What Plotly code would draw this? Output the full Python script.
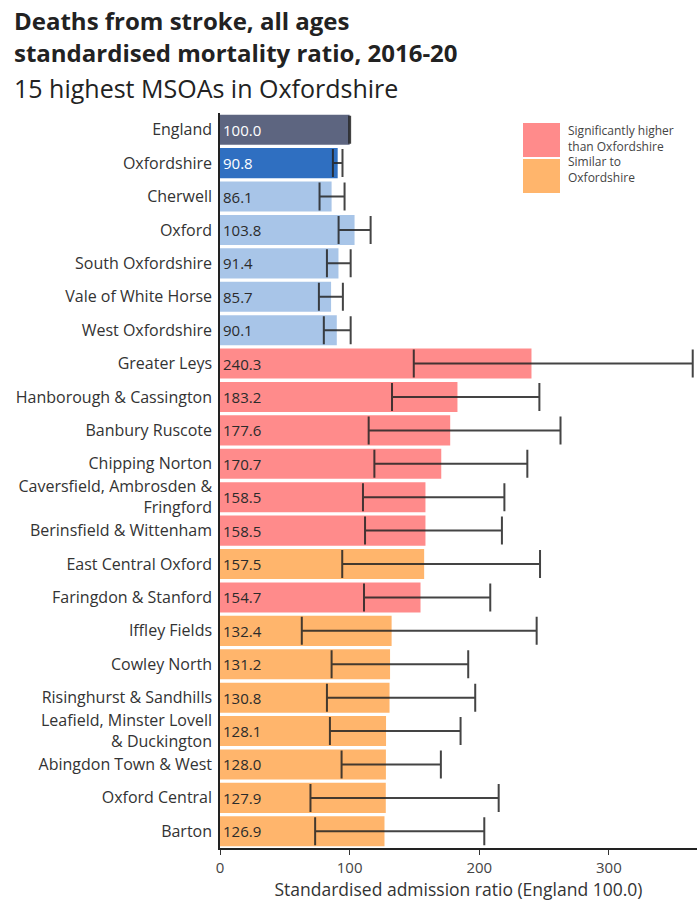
import plotly.graph_objects as go

categories = [
    "England", "Oxfordshire", "Cherwell", "Oxford", "South Oxfordshire",
    "Vale of White Horse", "West Oxfordshire", "Greater Leys",
    "Hanborough & Cassington", "Banbury Ruscote", "Chipping Norton",
    "Caversfield, Ambrosden &<br>Fringford", "Berinsfield & Wittenham",
    "East Central Oxford", "Faringdon & Stanford", "Iffley Fields",
    "Cowley North", "Risinghurst & Sandhills",
    "Leafield, Minster Lovell<br>& Duckington", "Abingdon Town & West",
    "Oxford Central", "Barton",
]
values = [100.0, 90.8, 86.1, 103.8, 91.4, 85.7, 90.1, 240.3, 183.2, 177.6,
          170.7, 158.5, 158.5, 157.5, 154.7, 132.4, 131.2, 130.8, 128.1,
          128.0, 127.9, 126.9]
lower_ci = [99.6, 87.1, 76.8, 91.5, 82.5, 76.3, 80.1, 149.5, 132.7, 114.7,
            119.1, 110.3, 111.9, 94.3, 111.1, 63.1, 86.1, 82.5, 84.8, 93.8,
            69.8, 73.4]
upper_ci = [100.4, 94.5, 96.1, 116.2, 100.8, 94.8, 100.8, 364.7, 246.4, 262.7,
            237.1, 219.4, 217.5, 246.9, 208.5, 244.3, 191.5, 196.9, 185.6,
            170.4, 215.0, 203.9]
groups = ["england", "county", "district", "district", "district", "district",
          "district", "higher", "higher", "higher", "higher", "higher",
          "higher", "similar", "higher", "similar", "similar", "similar",
          "similar", "similar", "similar", "similar"]
x_ticks = [0, 100, 200, 300]
legend_text = "Significantly higher<br>than Oxfordshire<br>Similar to<br>Oxfordshire"

group_colors = {
    "england": "#5d6580",
    "county": "#2f6fc1",
    "district": "#a8c5e8",
    "higher": "#ff8b8b",
    "similar": "#ffb56c",
}
text_colors = {
    "england": "#ffffff",
    "county": "#ffffff",
    "district": "#2b2b2b",
    "higher": "#2b2b2b",
    "similar": "#2b2b2b",
}

FONT = "'Open Sans', sans-serif"

fig = go.Figure()
fig.add_trace(go.Bar(
    y=categories,
    x=values,
    orientation="h",
    marker=dict(color=[group_colors[g] for g in groups], line=dict(width=0)),
    text=[f"{v:.1f}" for v in values],
    textposition="inside",
    insidetextanchor="start",
    constraintext="none",
    textangle=0,
    textfont=dict(family=FONT, size=15, color=[text_colors[g] for g in groups]),
    error_x=dict(
        type="data",
        symmetric=False,
        array=[u - v for u, v in zip(upper_ci, values)],
        arrayminus=[v - l for l, v in zip(lower_ci, values)],
        color="rgba(35,35,35,0.85)",
        thickness=2,
        width=14,
    ),
    hoverinfo="skip",
    showlegend=False,
))

fig.update_layout(
    width=697,
    height=905,
    margin=dict(l=220, r=0, t=113, b=57),
    paper_bgcolor="white",
    plot_bgcolor="white",
    bargap=0.1,
    font=dict(family=FONT, color="#333333"),
    xaxis=dict(
        range=[0, 368],
        tickvals=x_ticks,
        ticks="outside",
        ticklen=5,
        tickcolor="#333333",
        showgrid=False,
        zeroline=False,
        showline=True,
        linecolor="#222222",
        linewidth=1.5,
        tickfont=dict(size=15, color="#444444"),
        title=dict(text="Standardised admission ratio (England 100.0)",
                   font=dict(size=17.5, color="#333333"), standoff=0),
    ),
    yaxis=dict(
        autorange="reversed",
        showgrid=False,
        showline=True,
        linecolor="#222222",
        linewidth=1.5,
        ticks="",
        tickfont=dict(size=16, color="#333333"),
        ticklabelstandoff=3,
    ),
)

pw = 697 - 220
def px_to_paper_x(px):
    return (px - 220) / pw

def py_to_paper_y(py):
    return 1 - (py - 113) / 735

# Titles
fig.add_annotation(text="<b>Deaths from stroke, all ages</b>", xref="paper", yref="paper",
                   x=px_to_paper_x(12), y=py_to_paper_y(20), xanchor="left", yanchor="middle",
                   showarrow=False, font=dict(size=24, color="#222222", family=FONT))
fig.add_annotation(text="<b>standardised mortality ratio, 2016-20</b>", xref="paper", yref="paper",
                   x=px_to_paper_x(12), y=py_to_paper_y(53), xanchor="left", yanchor="middle",
                   showarrow=False, font=dict(size=24, color="#222222", family=FONT))
fig.add_annotation(text="15 highest MSOAs in Oxfordshire", xref="paper", yref="paper",
                   x=px_to_paper_x(12), y=py_to_paper_y(88), xanchor="left", yanchor="middle",
                   showarrow=False, font=dict(size=25, color="#222222", family=FONT))

# Legend (custom)
fig.add_shape(type="rect", xref="paper", yref="paper",
              x0=px_to_paper_x(523), x1=px_to_paper_x(560),
              y0=py_to_paper_y(157), y1=py_to_paper_y(123),
              fillcolor=group_colors["higher"], line=dict(width=0))
fig.add_shape(type="rect", xref="paper", yref="paper",
              x0=px_to_paper_x(523), x1=px_to_paper_x(560),
              y0=py_to_paper_y(193), y1=py_to_paper_y(159),
              fillcolor=group_colors["similar"], line=dict(width=0))
fig.add_annotation(text=legend_text, xref="paper", yref="paper",
                   x=px_to_paper_x(566), y=py_to_paper_y(154), xanchor="left", yanchor="middle",
                   align="left", showarrow=False,
                   font=dict(size=12, color="#444444", family=FONT))

fig.write_html("out.html")
